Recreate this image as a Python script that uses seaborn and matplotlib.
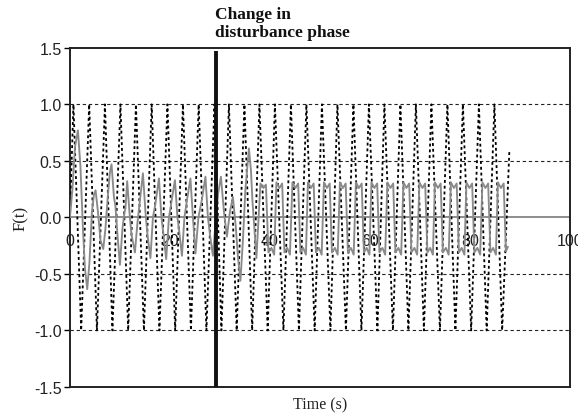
import matplotlib
matplotlib.use("Agg")
import matplotlib.pyplot as plt
from matplotlib.ticker import FormatStrFormatter
import seaborn as sns
import pandas as pd

# Disturbance input (dotted): extrema of the oscillation, phase change at t_change
dist_t = [0.0, 0.7, 2.25, 3.85, 5.4, 7.0, 8.5, 10.1, 11.65, 13.2, 14.8, 16.35, 17.9,
          19.5, 21.05, 22.6, 24.2, 25.75, 27.3, 28.9, 30.3, 31.8, 33.35, 34.9, 36.45,
          37.9, 39.55, 41.0, 42.7, 44.2, 45.8, 47.3, 48.95, 50.4, 52.1, 53.5, 55.2,
          56.7, 58.3, 59.8, 61.5, 62.9, 64.6, 66.1, 67.7, 69.2, 70.8, 72.3, 74.0,
          75.5, 77.1, 78.6, 80.25, 81.8, 83.35, 84.9, 86.45, 87.9]
dist_v = [0.0, 1.0, -1.0, 1.0, -1.0, 1.0, -1.0, 1.0, -1.0, 1.0, -1.0, 1.0, -1.0,
          1.0, -1.0, 1.0, -1.0, 1.0, -1.0, 1.0, -1.0, 1.0, -1.0, 1.0, -1.0,
          1.0, -1.0, 1.0, -1.0, 1.0, -1.0, 1.0, -1.0, 1.0, -1.0, 1.0, -1.0,
          1.0, -1.0, 1.0, -1.0, 1.0, -1.0, 1.0, -1.0, 1.0, -1.0, 1.0, -1.0,
          1.0, -1.0, 1.0, -1.0, 1.0, -1.0, 1.0, -1.0, 0.6]

# Controlled response (grey)
resp_t = [0.0, 0.5, 1.0, 1.6, 2.1, 2.6, 3.0, 3.46, 3.9, 4.4, 4.8, 5.13, 5.6, 6.1,
          6.66, 7.1, 7.6, 8.0, 8.32, 8.8, 9.1, 9.5, 10.0, 10.5, 10.9, 11.1, 11.45,
          11.9, 12.3, 13.0, 13.5, 14.0, 14.6, 15.1, 15.5, 16.1, 16.6, 17.1, 17.8,
          18.3, 18.7, 19.25, 19.8, 20.3, 21.0, 21.5, 21.9, 22.4, 22.9, 23.4, 24.1,
          24.6, 25.1, 25.7, 26.4, 27.1, 27.6, 28.0, 28.6, 29.2, 29.6, 30.2, 30.8,
          31.4, 32.0, 32.6, 33.2, 33.6, 34.1, 34.6, 35.1, 35.8, 36.2, 36.5, 37.3,
          38.1, 38.7, 39.2, 39.7, 40.3, 40.85, 41.3, 41.9, 42.45, 42.9, 43.45, 44.0,
          44.5, 45.1, 45.65, 46.1, 46.65, 47.2, 47.6, 48.2, 48.75, 49.2, 49.8, 50.35,
          50.8, 51.4, 51.95, 52.4, 53.0, 53.55, 54.0, 54.6, 55.15, 55.6, 56.2, 56.75,
          57.2, 57.8, 58.35, 58.8, 59.35, 59.9, 60.3, 60.9, 61.45, 61.9, 62.5, 63.05,
          63.5, 64.1, 64.65, 65.1, 65.7, 66.25, 66.7, 67.3, 67.85, 68.3, 68.9, 69.45,
          69.9, 70.5, 71.05, 71.5, 72.05, 72.6, 73.0, 73.6, 74.15, 74.6, 75.2, 75.75,
          76.2, 76.8, 77.35, 77.8, 78.35, 78.9, 79.3, 79.9, 80.45, 80.9, 81.5, 82.05,
          82.5, 83.1, 83.65, 84.1, 84.65, 85.2, 85.6, 86.2, 86.75, 87.2, 87.6]
resp_v = [0.0, 0.25, 0.62, 0.77, 0.45, -0.10, -0.45, -0.635, -0.40, 0.05, 0.20, 0.24,
          0.05, -0.20, -0.28, -0.10, 0.20, 0.40, 0.47, 0.18, 0.10, -0.15, -0.42, -0.10,
          0.04, 0.08, 0.32, 0.05, -0.15, -0.31, -0.05, 0.15, 0.39, 0.05, -0.15, -0.36,
          0.00, 0.12, 0.345, 0.00, -0.15, -0.37, 0.00, 0.14, 0.33, 0.00, -0.14, -0.34,
          0.00, 0.15, 0.345, 0.00, -0.32, 0.00, 0.16, 0.36, 0.00, -0.15, -0.34, 0.00,
          0.20, 0.36, 0.05, -0.17, 0.05, 0.18, -0.10, -0.35, -0.56, -0.20, 0.25, 0.61,
          0.42, 0.15, -0.36,
          0.30, 0.26, 0.29, -0.31, -0.27, -0.33, 0.31, 0.26, 0.30, -0.31, -0.27, -0.33,
          0.31, 0.26, 0.30, -0.31, -0.27, -0.33, 0.31, 0.26, 0.30, -0.31, -0.27, -0.33,
          0.31, 0.26, 0.30, -0.31, -0.27, -0.33, 0.31, 0.26, 0.30, -0.31, -0.27, -0.33,
          0.31, 0.26, 0.30, -0.31, -0.27, -0.33, 0.31, 0.26, 0.30, -0.31, -0.27, -0.33,
          0.31, 0.26, 0.30, -0.31, -0.27, -0.33, 0.31, 0.26, 0.30, -0.31, -0.27, -0.33,
          0.31, 0.26, 0.30, -0.31, -0.27, -0.33, 0.31, 0.26, 0.30, -0.31, -0.27, -0.33,
          0.31, 0.26, 0.30, -0.31, -0.27, -0.33, 0.31, 0.26, 0.30, -0.31, -0.27, -0.33,
          0.31, 0.26, 0.30, -0.31, -0.27, -0.33, 0.31, 0.26, 0.30, -0.30, -0.26]

t_change = 29.2
x_ticks = [0, 20, 40, 60, 80, 100]
y_ticks = [-1.5, -1.0, -0.5, 0.0, 0.5, 1.0, 1.5]
grid_levels = [-1.0, -0.5, 0.5, 1.0]

sns.set_theme(style="white")
plt.rcParams["font.family"] = ["Liberation Sans", "DejaVu Sans"]

fig = plt.figure(figsize=(5.78, 4.14), dpi=100)
ax = fig.add_axes([0.121, 0.063, 0.865, 0.819])

for lv in grid_levels:
    ax.axhline(lv, color="#222222", lw=0.8, linestyle=(0, (3, 2.5)), zorder=1)

dist = pd.DataFrame({"t": dist_t, "F": dist_v})
resp = pd.DataFrame({"t": resp_t, "F": resp_v})

sns.lineplot(data=dist, x="t", y="F", ax=ax, estimator=None, sort=False,
             color="black", lw=1.3, linestyle=(0, (1.6, 1.6)), zorder=3)
sns.lineplot(data=resp, x="t", y="F", ax=ax, estimator=None, sort=False,
             color="#8a8a8a", lw=1.35, zorder=4)

ax.plot([t_change, t_change], [-1.5, 1.47], color="#111111", lw=2.8, zorder=5,
        solid_capstyle="butt")

ax.set_xlim(0, 100)
ax.set_ylim(-1.5, 1.5)
ax.set_yticks(y_ticks)
ax.yaxis.set_major_formatter(FormatStrFormatter("%.1f"))
ax.tick_params(axis="y", left=True, length=4, width=1, color="black",
               labelsize=11.5, pad=2, labelcolor="#222222")
ax.tick_params(axis="x", bottom=False, labelbottom=False)
for s in ax.spines.values():
    s.set_color("#222222")
    s.set_linewidth(1.4)

# zero axis carrying the time tick labels
sec = ax.secondary_xaxis(0.5)
sec.set_alignment("bottom")
sec.set_xticks(x_ticks)
sec.tick_params(axis="x", length=0, labelsize=11.5, pad=11, labelcolor="#222222")
sec.spines["bottom"].set_color("#7a7a7a")
sec.spines["bottom"].set_linewidth(1.2)

ax.set_xlabel("Time (s)", family=["Liberation Serif"], fontsize=11.5, labelpad=7,
              color="#222222")
ax.set_ylabel("F(t)", family=["Liberation Serif"], fontsize=12, labelpad=4,
              color="#222222")

fig.text(215 / 578, 1 - 7 / 414, "Change in\ndisturbance phase",
         family=["Liberation Serif"], fontweight="bold", fontsize=12.5,
         ha="left", va="top", color="#111111", linespacing=1.2)

fig.savefig("out.png", dpi=100)
